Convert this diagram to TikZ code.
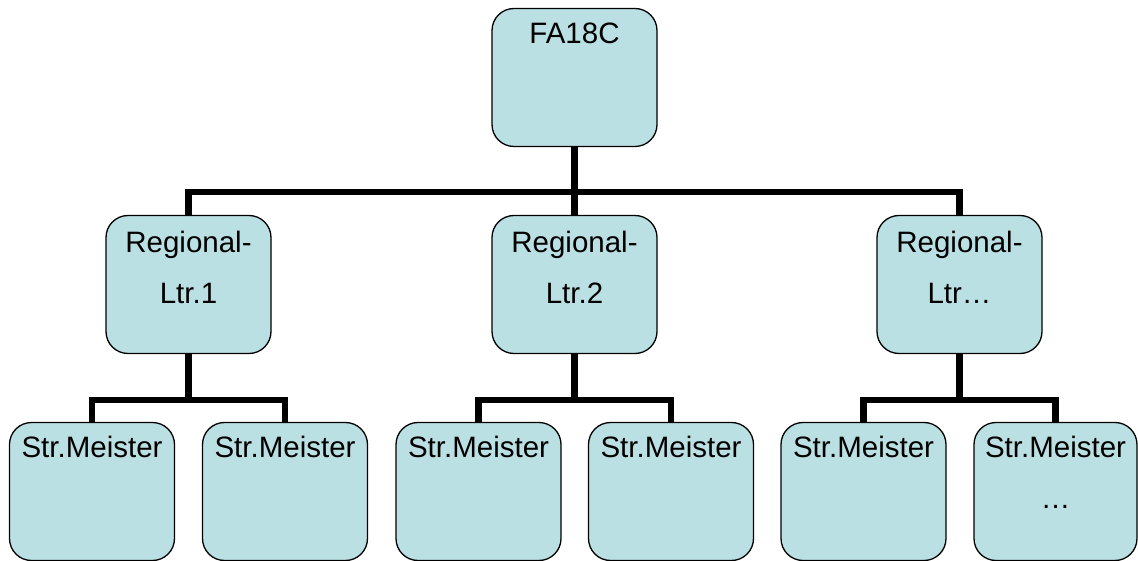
\documentclass[tikz,border=0pt]{standalone}
\usepackage{fontspec}
\setmainfont{Liberation Sans}
\definecolor{boxfill}{RGB}{187,224,227}
\tikzset{
  orgbox/.style={draw=black, line width=1.3pt, fill=boxfill, rounded corners=22pt,
    minimum width=165pt, minimum height=138pt, inner sep=0pt},
  lbl/.style={anchor=north, inner sep=0pt, align=center,
    font=\fontsize{29.5}{51}\selectfont},
  conn/.style={draw=black, line width=6.5pt, line join=miter}
}
\begin{document}
\begin{tikzpicture}[x=1pt,y=-1pt]
\useasboundingbox (0,0) rectangle (1138,561);
\coordinate (j0) at (574.5,192);
\coordinate (j1) at (188.5,400);
\coordinate (j2) at (574.5,400);
\coordinate (j3) at (959.5,400);
% boxes
\node[orgbox] (top) at (574.5,77.5) {};
\node[orgbox] (r1) at (188.5,284.5) {};
\node[orgbox] (r2) at (574.5,284.5) {};
\node[orgbox] (r3) at (959.5,284.5) {};
\node[orgbox] (s1) at (92,491.5) {};
\node[orgbox] (s2) at (285,491.5) {};
\node[orgbox] (s3) at (478.5,491.5) {};
\node[orgbox] (s4) at (671,491.5) {};
\node[orgbox] (s5) at (863.5,491.5) {};
\node[orgbox, minimum width=163pt] (s6) at (1055.5,491.5) {};
% labels
\node[lbl] (ltop) at ([yshift=-15pt]top.north) {FA18C};
\node[lbl] (lr1) at ([yshift=-16pt]r1.north) {Regional-\\Ltr.1};
\node[lbl] (lr2) at ([yshift=-16pt]r2.north) {Regional-\\Ltr.2};
\node[lbl] (lr3) at ([yshift=-16pt]r3.north) {Regional-\\Ltr…};
\node[lbl] (ls1) at ([yshift=-14pt]s1.north) {Str.Meister};
\node[lbl] (ls2) at ([yshift=-14pt]s2.north) {Str.Meister};
\node[lbl] (ls3) at ([yshift=-14pt]s3.north) {Str.Meister};
\node[lbl] (ls4) at ([yshift=-14pt]s4.north) {Str.Meister};
\node[lbl] (ls5) at ([yshift=-14pt]s5.north) {Str.Meister};
\node[lbl] (ls6) at ([yshift=-14pt]s6.north) {Str.Meister\\…};
% connectors
\draw[conn] (top.south) -- (j0);
\draw[conn] (r1.north) |- (j0) -| (r3.north);
\draw[conn] (j0) -- (r2.north);
\draw[conn] (r1.south) -- (j1);
\draw[conn] (s1.north) |- (j1) -| (s2.north);
\draw[conn] (r2.south) -- (j2);
\draw[conn] (s3.north) |- (j2) -| (s4.north);
\draw[conn] (r3.south) -- (j3);
\draw[conn] (s5.north) |- (j3) -| (s6.north);
\end{tikzpicture}
\end{document}
